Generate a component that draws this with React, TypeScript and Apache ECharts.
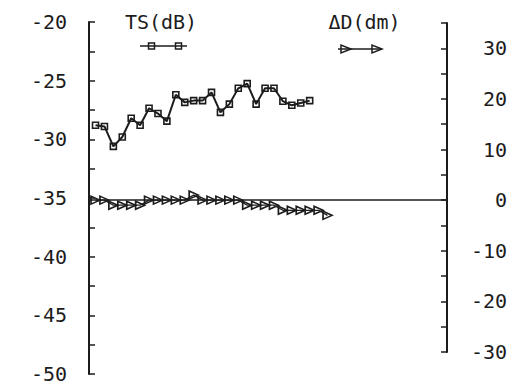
import React, { useEffect, useRef } from "react";
import * as echarts from "echarts";

// Ping index (x positions)
const pings = [1, 2, 3, 4, 5, 6, 7, 8, 9, 10, 11, 12, 13, 14, 15, 16, 17, 18, 19, 20, 21, 22, 23, 24, 25, 26, 27];

// Target strength TS (dB), left axis
const tsValues = [
  -28.8, -28.9, -30.6, -29.8, -28.2, -28.8, -27.35, -27.8, -28.45, -26.2,
  -26.85, -26.7, -26.7, -26.0, -27.7, -27.0, -25.65, -25.25, -27.0, -25.65,
  -25.65, -26.75, -27.1, -26.9, -26.7,
];

// Depth change ΔD (dm), right axis
const dDepth = [
  0, 0, -1, -1, -1, -1, 0, 0, 0, 0, 0, 1, 0, 0, 0, 0, 0, -1, -1, -1, -1, -2,
  -2, -2, -2, -2, -3,
];

const leftTitle = "TS(dB)";
const rightTitle = "ΔD(dm)";

const INK = "#1c1c1c";
const FONT = "DejaVu Sans Mono";

export default function App() {
  const ref = useRef<HTMLDivElement>(null);

  useEffect(() => {
    if (!ref.current) return;
    const chart = echarts.init(ref.current, null, { renderer: "svg" });

    const tsData = tsValues.map((v, i) => [pings[i], v]);
    const ddData = dDepth.map((v, i) => [pings[i], v]);

    const xCommon = {
      type: "value" as const,
      min: 0.27,
      max: 40.39,
      show: false,
    };

    chart.setOption({
      animation: false,
      backgroundColor: "#ffffff",
      grid: [
        { left: 89, right: 72, top: 22, bottom: 11 },
        { left: 89, right: 72, top: 23, bottom: 33 },
      ],
      xAxis: [
        { ...xCommon, gridIndex: 0 },
        { ...xCommon, gridIndex: 1 },
      ],
      yAxis: [
        {
          type: "value",
          gridIndex: 0,
          position: "left",
          min: -50,
          max: -20,
          interval: 2.5,
          axisLine: { show: true, lineStyle: { color: INK, width: 2 } },
          axisTick: { show: true, inside: true, length: 6, lineStyle: { color: INK, width: 1.5 } },
          splitLine: { show: false },
          axisLabel: {
            margin: 22,
            color: INK,
            fontFamily: FONT,
            fontSize: 20,
            lineHeight: 20,
            formatter: (v: number) => (v % 5 === 0 ? String(v) : ""),
          },
        },
        {
          type: "value",
          gridIndex: 1,
          position: "right",
          min: -30,
          max: 35,
          interval: 5,
          axisLine: { show: true, lineStyle: { color: INK, width: 2 } },
          axisTick: { show: true, inside: true, length: 6, lineStyle: { color: INK, width: 1.5 } },
          splitLine: { show: false },
          axisLabel: {
            margin: 60,
            align: "right",
            color: INK,
            fontFamily: FONT,
            fontSize: 20,
            lineHeight: 20,
            formatter: (v: number) => (v % 10 === 0 ? String(v) : ""),
          },
        },
      ],
      series: [
        {
          name: leftTitle,
          type: "line",
          xAxisIndex: 0,
          yAxisIndex: 0,
          data: tsData,
          symbol: "rect",
          symbolSize: 6,
          lineStyle: { color: INK, width: 2 },
          itemStyle: { color: "rgba(255,255,255,0)", borderColor: INK, borderWidth: 1.6 },
        },
        {
          name: rightTitle,
          type: "line",
          xAxisIndex: 1,
          yAxisIndex: 1,
          data: ddData,
          symbol: "triangle",
          symbolRotate: -90,
          symbolSize: [8, 9],
          lineStyle: { color: INK, width: 1.3 },
          itemStyle: { color: "rgba(255,255,255,0)", borderColor: INK, borderWidth: 1.6 },
          markLine: {
            silent: true,
            symbol: ["none", "none"],
            label: { show: false },
            lineStyle: { color: INK, width: 1.5, type: "solid" },
            data: [{ yAxis: 0 }],
          },
        },
      ],
      graphic: [
        {
          type: "text",
          x: 161,
          y: 22,
          style: {
            text: leftTitle,
            fill: INK,
            font: `20px ${FONT}`,
            textAlign: "center",
            textVerticalAlign: "middle",
          },
        },
        {
          type: "line",
          shape: { x1: 140, y1: 46, x2: 187, y2: 46 },
          style: { stroke: INK, lineWidth: 1.5 },
        },
        {
          type: "rect",
          shape: { x: 148.5, y: 43, width: 6, height: 6 },
          style: { fill: "none", stroke: INK, lineWidth: 1.5 },
        },
        {
          type: "rect",
          shape: { x: 175.5, y: 43, width: 6, height: 6 },
          style: { fill: "none", stroke: INK, lineWidth: 1.5 },
        },
        {
          type: "text",
          x: 364.5,
          y: 22,
          style: {
            text: rightTitle,
            fill: INK,
            font: `20px ${FONT}`,
            textAlign: "center",
            textVerticalAlign: "middle",
          },
        },
        {
          type: "line",
          shape: { x1: 338, y1: 49, x2: 382, y2: 49 },
          style: { stroke: INK, lineWidth: 1.5 },
        },
        {
          type: "polygon",
          shape: { points: [[341, 45], [341, 53], [351, 49]] },
          style: { fill: "none", stroke: INK, lineWidth: 1.5 },
        },
        {
          type: "polygon",
          shape: { points: [[372, 45], [372, 53], [382, 49]] },
          style: { fill: "none", stroke: INK, lineWidth: 1.5 },
        },
      ],
    });

    return () => chart.dispose();
  }, []);

  return (
    <div
      ref={ref}
      style={{ position: "fixed", left: 0, top: 0, width: 519, height: 385, background: "#fff" }}
    />
  );
}
